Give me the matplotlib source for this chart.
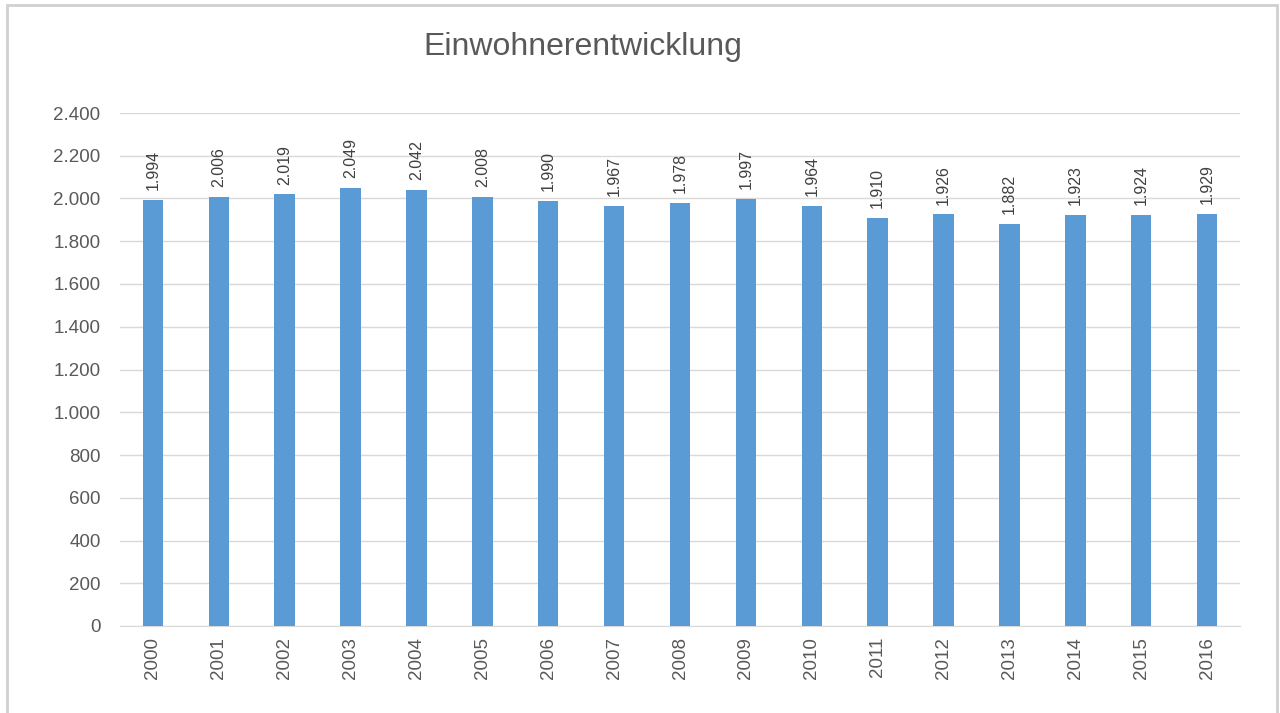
import matplotlib
matplotlib.use("Agg")
import matplotlib.pyplot as plt
from matplotlib.patches import Rectangle

plt.rcParams['font.family'] = ['Liberation Sans', 'DejaVu Sans']

years = ['2000', '2001', '2002', '2003', '2004', '2005', '2006', '2007', '2008',
         '2009', '2010', '2011', '2012', '2013', '2014', '2015', '2016']
einwohner = [1994, 2006, 2019, 2049, 2042, 2008, 1990, 1967, 1978,
             1997, 1964, 1910, 1926, 1882, 1923, 1924, 1929]
y_ticks = list(range(0, 2401, 200))


def de_fmt(v):
    return f"{v:,}".replace(",", ".")


fig = plt.figure(figsize=(12.8, 7.13), dpi=100)

# outer chart frame
fig.patches.append(Rectangle((7 / 1280, -0.05), (1277 - 7) / 1280, 1 + 0.05 - 5 / 713,
                             transform=fig.transFigure, fill=False,
                             edgecolor='#D0D0D0', linewidth=2))

ax = fig.add_axes([120 / 1280, 1 - 626 / 713, (1240 - 120) / 1280, (626 - 113) / 713])

x = range(len(years))
ax.bar(x, einwohner, width=0.31, color='#5B9BD5', zorder=3)

for i, v in enumerate(einwohner):
    ax.annotate(de_fmt(v), (i, v), xytext=(0, 7), textcoords='offset points',
                rotation=90, ha='center', va='bottom', fontsize=11.5, color='#404040')

ax.set_xlim(-0.5, len(years) - 0.5)
ax.set_ylim(0, 2400)
ax.set_yticks(y_ticks)
ax.set_yticklabels([de_fmt(t) for t in y_ticks])
ax.set_xticks(list(x))
ax.set_xticklabels(years, rotation=90)
ax.tick_params(axis='both', length=0, labelsize=13.5, colors='#595959')
ax.tick_params(axis='y', pad=14)
ax.tick_params(axis='x', pad=8)
ax.grid(axis='y', color='#D9D9D9', linewidth=1, zorder=0)
for s in ['top', 'right', 'left']:
    ax.spines[s].set_visible(False)
ax.spines['bottom'].set_color('#D9D9D9')

fig.text(583 / 1280, 1 - 47 / 713, 'Einwohnerentwicklung', ha='center', va='center',
         fontsize=23, color='#595959')

fig.savefig('out.png', dpi=100, facecolor='white')
